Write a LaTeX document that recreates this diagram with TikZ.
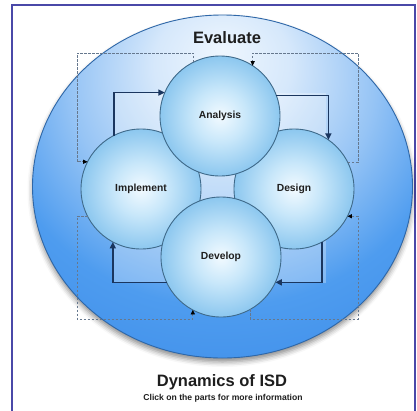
\documentclass[tikz,border=0pt]{standalone}
\usepackage{fontspec}
\setmainfont{Liberation Sans}
\usetikzlibrary{arrows.meta,shadows.blur}

\definecolor{frameblue}{HTML}{4A48A8}
\definecolor{evTop}{HTML}{EEF6FE}
\definecolor{evA}{HTML}{D6E8FB}
\definecolor{evB}{HTML}{96C4F5}
\definecolor{evC}{HTML}{4E9CEF}
\definecolor{evD}{HTML}{3A8AE8}
\definecolor{evLine}{HTML}{2E67A8}
\definecolor{phaseIn}{HTML}{F2FAFF}
\definecolor{phaseMid}{HTML}{C8E7FA}
\definecolor{phaseOut}{HTML}{8CC7EF}
\definecolor{phaseLine}{HTML}{3F6A8A}
\definecolor{flowcol}{HTML}{1A365F}
\definecolor{loopcol}{HTML}{66788E}
\definecolor{inkcol}{HTML}{1E1E1E}

% glossy glow of the evaluation ellipse, brightest near its top
\pgfdeclareradialshading{evalglow}{\pgfpoint{0bp}{20bp}}{%
  color(0bp)=(evTop); color(9bp)=(evA); color(20bp)=(evB);
  color(30bp)=(evC); color(45bp)=(evD); color(80bp)=(evD)}

% soft fill of each phase bubble
\pgfdeclareradialshading{phaseglow}{\pgfpoint{0bp}{0bp}}{%
  color(0bp)=(phaseIn); color(11bp)=(phaseMid); color(25bp)=(phaseOut);
  color(40bp)=(phaseOut)}

\tikzset{
  phase/.style={circle, minimum size=120pt, inner sep=0pt, outer sep=0pt,
    draw=phaseLine, line width=0.9pt, shading=phaseglow,
    font=\bfseries\fontsize{10.3}{12}\selectfont, text=inkcol},
  flow/.style={draw=flowcol, line width=1.7pt, line join=miter,
    -{Triangle[length=6.5pt,width=6pt]}},
  loopback/.style={draw=loopcol, line width=0.75pt, dash pattern=on 2.5pt off 1.5pt,
    -{Triangle[length=4.5pt,width=4.2pt,color=black]}},
  label/.style={font=\bfseries, text=inkcol, inner sep=0pt}
}

\begin{document}
\begin{tikzpicture}[x=1pt,y=-1pt]
  \useasboundingbox (0,0) rectangle (417,410);

  % page frame
  \draw[frameblue, line width=1.2pt] (12,5) rectangle (415,416);

  % evaluation ellipse
  \path[shading=evalglow, draw=evLine, line width=0.9pt,
        blur shadow={shadow xshift=0pt, shadow yshift=-4pt,
                     shadow blur radius=5pt, shadow opacity=45}]
    (222.5,186.5) ellipse [x radius=190, y radius=171.5];

  % lighter field enclosed by the main cycle
  \fill[white, opacity=0.28] (113,93) rectangle (326,283);

  % phases
  \node[phase] (impl) at (141,189) {Implement};
  \node[phase] (des)  at (294,189) {Design};
  \node[phase] (ana)  at (220,116) {Analysis};
  \node[phase] (dev)  at (221,257) {Develop};

  % main cycle
  \draw[flow] (impl.117.8) |- (ana.157.5);
  \draw[flow] (ana.20.5) -| (des.55.5);
  \draw[flow] (des.-62.2) |- (dev.-25.7);
  \draw[flow] (dev.205.7) -| (impl.242.2);

  % evaluation feedback loops
  \coordinate (tl) at (77,53);
  \coordinate (tr) at (358,53);
  \coordinate (br) at (358,319);
  \coordinate (bl) at (77,319);
  \draw[loopback] (ana.116.7) |- (tl) |- (impl.153.3);
  \draw[loopback] (des.26.7) -| (tr) -| (ana.57.8);
  \draw[loopback] (dev.-61.1) |- (br) |- (des.-27.8);
  \draw[loopback] (impl.207.8) -| (bl) -| (dev.242);

  % titles
  \node[label, font=\bfseries\fontsize{16.5}{18}\selectfont] (evaluate) at (227,38) {Evaluate};
  \node[label, font=\bfseries\fontsize{16.5}{18}\selectfont] (title) at (222,382) {Dynamics of ISD};
  \node[label, font=\bfseries\fontsize{8.6}{10}\selectfont] (hint) at (223,398) {Click on the parts for more information};
\end{tikzpicture}
\end{document}
